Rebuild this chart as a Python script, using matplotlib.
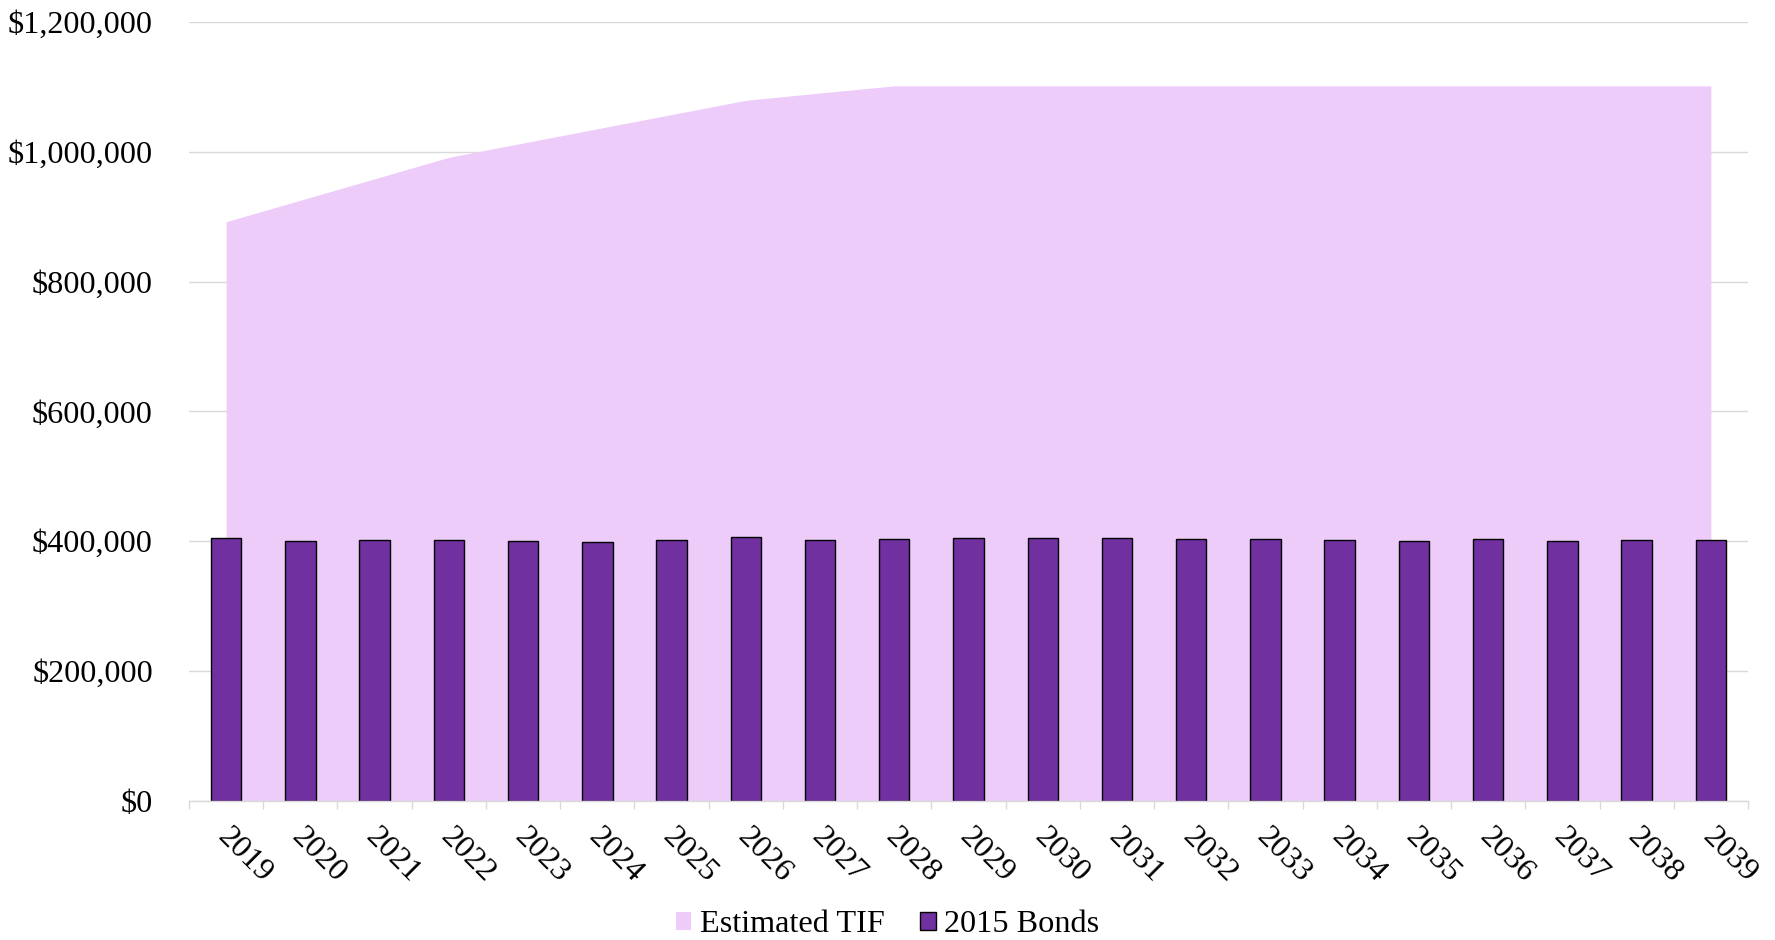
import matplotlib
matplotlib.use("Agg")
import matplotlib.pyplot as plt
import matplotlib.transforms as mtransforms
from matplotlib.patches import Patch
from matplotlib.ticker import FuncFormatter, FixedLocator
import numpy as np

plt.rcParams['font.family'] = ['Liberation Serif', 'DejaVu Serif']

years = [str(y) for y in range(2019, 2040)]
estimated_tif = [892500, 925600, 958700, 991800, 1013800, 1035800, 1057700,
                 1079700, 1091000, 1102000, 1102000, 1102000, 1102000, 1102000,
                 1102000, 1102000, 1102000, 1102000, 1102000, 1102000, 1102000]
bonds_2015 = [404300, 400600, 401200, 401200, 400600, 399100, 402200,
              405900, 402200, 403200, 404300, 404300, 404300, 403700,
              402800, 401200, 400100, 403200, 400100, 401700, 401700]

area_color = '#EECCFA'
bar_color = '#7030A0'
grid_color = '#D9D9D9'
fs = 23.2

fig = plt.figure(figsize=(17.75, 9.4), dpi=100)
ax = fig.add_axes([189/1775, 1 - 800.5/940, (1748 - 189)/1775, (800.5 - 22.3)/940])

x = np.arange(len(years))
ax.fill_between(x, 0, estimated_tif, color=area_color, linewidth=0, zorder=2)
ax.bar(x, bonds_2015, width=0.41, color=bar_color, edgecolor='black', linewidth=1.0, zorder=3)

ax.set_xlim(-0.5, len(years) - 0.5)
ax.set_ylim(0, 1200000)
ax.set_yticks(np.arange(0, 1200001, 200000))
ax.yaxis.set_major_formatter(FuncFormatter(lambda v, p: "${:,.0f}".format(v)))
ax.grid(axis='y', color=grid_color, linewidth=1.0, zorder=0)
ax.set_axisbelow(True)

for s in ['top', 'right', 'left']:
    ax.spines[s].set_visible(False)
ax.spines['bottom'].set_color(grid_color)
ax.spines['bottom'].set_linewidth(1.0)
ax.spines['bottom'].set_zorder(4)

ax.tick_params(axis='y', length=0, pad=26, labelsize=fs)
ax.set_xticks(x)
ax.set_xticklabels(years)
ax.tick_params(axis='x', which='major', length=0, pad=15.5, labelsize=fs)
ax.xaxis.set_minor_locator(FixedLocator(np.arange(-0.5, len(years), 1.0)))
ax.tick_params(axis='x', which='minor', length=6, width=1.0, color=grid_color)

offset = mtransforms.ScaledTranslation(6/100, 0, fig.dpi_scale_trans)
for lbl in ax.get_xticklabels():
    lbl.set_rotation(-45)
    lbl.set_rotation_mode('anchor')
    lbl.set_ha('left')
    lbl.set_va('top')
    lbl.set_transform(lbl.get_transform() + offset)

handles = [Patch(facecolor=area_color, edgecolor='none', label='Estimated TIF'),
           Patch(facecolor=bar_color, edgecolor='black', linewidth=1.0, label='2015 Bonds')]
fig.legend(handles=handles, loc='center', bbox_to_anchor=(0.5, 0.016), ncol=2,
           frameon=False, fontsize=fs, handlelength=0.48, handleheight=0.48,
           handletextpad=0.26, columnspacing=1.1, borderpad=0, borderaxespad=0)

fig.savefig('out.png', dpi=100)
